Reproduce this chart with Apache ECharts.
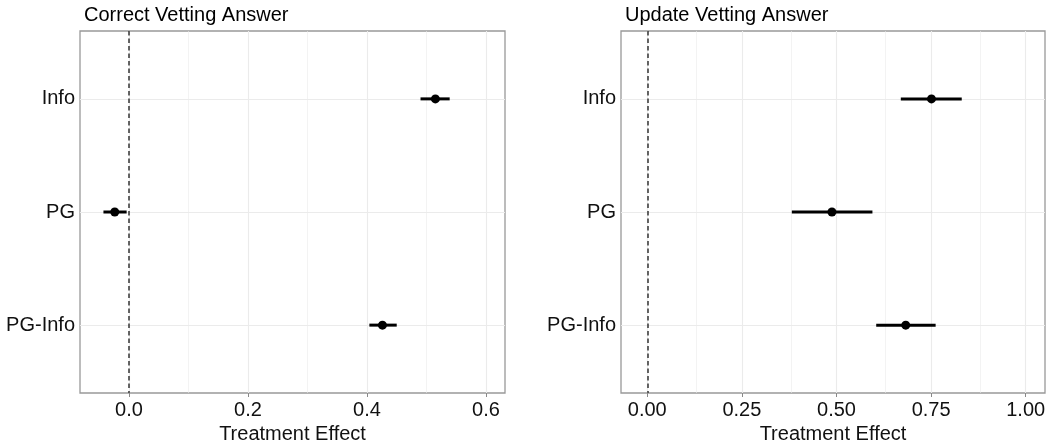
<!DOCTYPE html>
<html>
<head>
<meta charset="utf-8">
<script src="https://cdn.jsdelivr.net/npm/echarts@6/dist/echarts.min.js"></script>
<style>
  html, body { margin: 0; padding: 0; background: #fff; }
  #chart { width: 1054px; height: 446px; }
</style>
</head>
<body>
<div id="chart"></div>
<script>
// Treatment effects with confidence intervals, two outcomes
const categories = ['Info', 'PG', 'PG-Info'];

// Panel 1: Correct Vetting Answer
const correctEst = [0.515, -0.024, 0.426];
const correctLow = [0.490, -0.043, 0.404];
const correctHigh = [0.539, -0.004, 0.450];
const correctTicks = [0.0, 0.2, 0.4, 0.6];
const correctMinor = [0.1, 0.3, 0.5];

// Panel 2: Update Vetting Answer
const updateEst = [0.751, 0.488, 0.683];
const updateLow = [0.670, 0.382, 0.605];
const updateHigh = [0.831, 0.595, 0.762];
const updateTicks = [0.0, 0.25, 0.5, 0.75, 1.0];
const updateMinor = [0.125, 0.375, 0.625, 0.875];

const FONT = '"Liberation Sans", Arial, Helvetica, sans-serif';
const GRID_COLOR = '#ebebeb';
const TEXT_COLOR = '#111';
const FONT_SIZE = 20;

const catPos = categories.map((c, i) => i + 1);

function xAxisFor(idx, min, max, ticks, decimals) {
  return {
    type: 'value', gridIndex: idx, min: min, max: max,
    name: 'Treatment Effect', nameLocation: 'middle', nameGap: 24,
    nameTextStyle: { fontFamily: FONT, fontSize: FONT_SIZE, color: TEXT_COLOR },
    axisLine: { show: false },
    axisTick: { show: true, length: 4, customValues: ticks, lineStyle: { color: '#888', width: 1 } },
    axisLabel: {
      customValues: ticks, margin: 7,
      fontFamily: FONT, fontSize: FONT_SIZE, color: TEXT_COLOR,
      formatter: v => Number(v).toFixed(decimals)
    },
    splitLine: { show: false }
  };
}

function yAxisFor(idx) {
  return {
    type: 'value', gridIndex: idx, min: 0.4, max: 3.6, inverse: true,
    axisLine: { show: false },
    axisTick: { show: true, length: 4, customValues: catPos, lineStyle: { color: '#888', width: 1 } },
    axisLabel: {
      customValues: catPos, margin: 5,
      fontFamily: FONT, fontSize: FONT_SIZE, color: TEXT_COLOR,
      formatter: v => categories[Math.round(v) - 1] || ''
    },
    splitLine: { show: false }
  };
}

// Background grid lines (major + minor), kept beneath the marks
function gridSeries(idx, ticks, minor) {
  const lines = [];
  ticks.forEach(v => lines.push({ xAxis: v, lineStyle: { color: GRID_COLOR, width: 1.1, type: 'solid' } }));
  minor.forEach(v => lines.push({ xAxis: v, lineStyle: { color: GRID_COLOR, width: 0.6, type: 'solid' } }));
  catPos.forEach(v => lines.push({ yAxis: v, lineStyle: { color: GRID_COLOR, width: 1.1, type: 'solid' } }));
  return {
    type: 'scatter', xAxisIndex: idx, yAxisIndex: idx, data: [], z: 1, silent: true,
    markLine: { z: 1, silent: true, symbol: 'none', label: { show: false }, animation: false, data: lines }
  };
}

function zeroLine(idx) {
  return {
    type: 'scatter', xAxisIndex: idx, yAxisIndex: idx, data: [], z: 2, silent: true,
    markLine: {
      z: 2, silent: true, symbol: 'none', label: { show: false }, animation: false,
      data: [{ xAxis: 0, lineStyle: { color: '#333', width: 1.5, type: [4.5, 3] } }]
    }
  };
}

// Confidence interval bars: solid 3px bar between the lower and upper bound
function intervalSeries(idx, low, high) {
  return {
    type: 'custom', xAxisIndex: idx, yAxisIndex: idx, z: 3, silent: true,
    data: categories.map((c, i) => [low[i], high[i], i + 1]),
    renderItem: (params, api) => {
      const a = api.coord([api.value(0), api.value(2)]);
      const b = api.coord([api.value(1), api.value(2)]);
      const h = 3;
      return {
        type: 'rect',
        shape: { x: a[0], y: a[1] - h / 2, width: b[0] - a[0], height: h },
        style: { fill: '#000', stroke: null }
      };
    }
  };
}

function pointSeries(idx, est) {
  return {
    type: 'scatter', xAxisIndex: idx, yAxisIndex: idx, z: 4,
    symbol: 'circle', symbolSize: 9,
    itemStyle: { color: '#000', opacity: 1 },
    data: est.map((v, i) => [v, i + 1])
  };
}

const chart = echarts.init(document.getElementById('chart'), null, { renderer: 'canvas' });
chart.setOption({
  animation: false,
  backgroundColor: '#fff',
  title: [
    { text: 'Correct Vetting Answer', left: 79, top: 0,
      textStyle: { fontFamily: FONT, fontSize: FONT_SIZE, fontWeight: 'normal', color: '#000' } },
    { text: 'Update Vetting Answer', left: 620, top: 0,
      textStyle: { fontFamily: FONT, fontSize: FONT_SIZE, fontWeight: 'normal', color: '#000' } }
  ],
  grid: [
    { left: 80, top: 31, width: 425, height: 362, outerBoundsMode: 'none', containLabel: false,
      show: true, borderColor: '#999', borderWidth: 1.3, backgroundColor: 'transparent' },
    { left: 621, top: 31, width: 424, height: 362, outerBoundsMode: 'none', containLabel: false,
      show: true, borderColor: '#999', borderWidth: 1.3, backgroundColor: 'transparent' }
  ],
  xAxis: [
    xAxisFor(0, -0.0824, 0.632, correctTicks, 1),
    xAxisFor(1, -0.0694, 1.051, updateTicks, 2)
  ],
  yAxis: [yAxisFor(0), yAxisFor(1)],
  series: [
    gridSeries(0, correctTicks, correctMinor),
    gridSeries(1, updateTicks, updateMinor),
    zeroLine(0),
    zeroLine(1),
    intervalSeries(0, correctLow, correctHigh),
    intervalSeries(1, updateLow, updateHigh),
    pointSeries(0, correctEst),
    pointSeries(1, updateEst)
  ]
});
</script>
</body>
</html>
